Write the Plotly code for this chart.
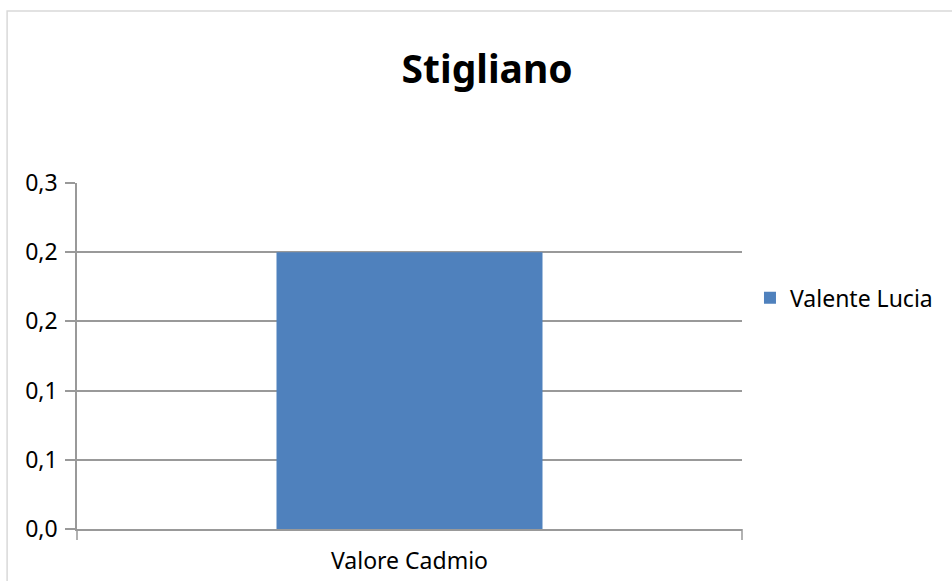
import plotly.graph_objects as go

# Data
categories = ["Valore Cadmio"]
series_name = "Valente Lucia"
values = [0.2]
tick_values = [0.0, 0.05, 0.10, 0.15, 0.20, 0.25]
tick_labels = ["0,0", "0,1", "0,1", "0,2", "0,2", "0,3"]

FONT = "Noto Sans"
GRID = "#999999"
LW = 1.5

fig = go.Figure()
fig.add_trace(go.Bar(
    x=categories, y=values, name=series_name,
    marker=dict(color="#4f81bd", line=dict(width=0)),
    width=0.4, showlegend=True,
))

fig.update_layout(
    width=952, height=581,
    margin=dict(l=77, r=210, t=183, b=52),
    paper_bgcolor="white", plot_bgcolor="white",
    font=dict(family=FONT, size=23, color="black"),
    title=dict(text="<b>Stigliano</b>", x=0.5117, xanchor="center",
               y=0.88, yanchor="middle",
               font=dict(family=FONT, size=39, color="black")),
    showlegend=True,
    legend=dict(x=1.012, xanchor="left", y=0.668, yanchor="middle",
                font=dict(family=FONT, size=23), itemwidth=30,
                bgcolor="rgba(0,0,0,0)"),
    bargap=0.6,
)

fig.update_xaxes(
    showline=True, linecolor=GRID, linewidth=LW,
    ticks="", showgrid=False, tickfont=dict(size=23),
    range=[-0.5, 0.5], ticklabelstandoff=11, automargin=False,
)
fig.update_yaxes(
    range=[0, 0.25], tickvals=tick_values, ticktext=tick_labels,
    showgrid=True, gridcolor=GRID, gridwidth=LW,
    showline=True, linecolor=GRID, linewidth=LW,
    ticks="outside", ticklen=10, tickcolor=GRID, tickwidth=LW,
    zeroline=False, tickfont=dict(size=23), ticklabelstandoff=3,
    automargin=False,
)

# category boundary ticks on the x axis
for xv in (0.0, 1.0):
    fig.add_shape(type="line", xref="paper", yref="paper",
                  x0=xv, x1=xv, y0=0, y1=-0.032,
                  line=dict(color=GRID, width=LW))

# outer chart frame
fig.add_shape(type="rect", xref="paper", yref="paper",
              x0=-0.1051, x1=1.4, y0=-0.3, y1=1.497,
              line=dict(color="#d9d9d9", width=1.5), layer="below")

fig.write_html("out.html")
